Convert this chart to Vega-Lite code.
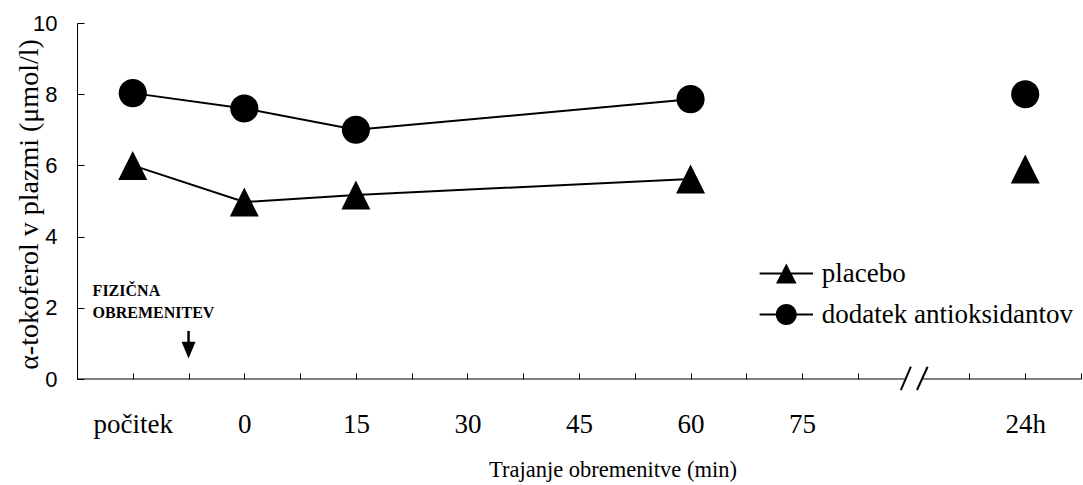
{
  "$schema": "https://vega.github.io/schema/vega-lite/v6.json",
  "width": 1004,
  "height": 356,
  "autosize": "none",
  "padding": {"left": 77, "top": 23, "right": 2, "bottom": 106},
  "background": "white",
  "config": {"view": {"stroke": null}, "font": "Liberation Serif"},
  "datasets": {
    "points": [
      {"pos": 1, "t": "počitek", "series": "placebo", "value": 6.0},
      {"pos": 3, "t": "0", "series": "placebo", "value": 4.97},
      {"pos": 5, "t": "15", "series": "placebo", "value": 5.17},
      {"pos": 11, "t": "60", "series": "placebo", "value": 5.62},
      {"pos": 17, "t": "24h", "series": "placebo", "value": 5.9},
      {"pos": 1, "t": "počitek", "series": "dodatek antioksidantov", "value": 8.03},
      {"pos": 3, "t": "0", "series": "dodatek antioksidantov", "value": 7.6},
      {"pos": 5, "t": "15", "series": "dodatek antioksidantov", "value": 7.0},
      {"pos": 11, "t": "60", "series": "dodatek antioksidantov", "value": 7.86},
      {"pos": 17, "t": "24h", "series": "dodatek antioksidantov", "value": 8.0}
    ],
    "axisline": [{"x": 0, "x2": 14.84}, {"x": 15.17, "x2": 18}],
    "slashes": [
      {"x": 14.77, "x2": 14.95, "y": -0.31, "y2": 0.345},
      {"x": 15.06, "x2": 15.25, "y": -0.31, "y2": 0.345}
    ],
    "notes": [
      {"x": 0.28, "y": 2.32, "text": "FIZIČNA"},
      {"x": 0.28, "y": 1.7, "text": "OBREMENITEV"}
    ],
    "arrow": [{"x": 2, "y": 1.35, "y2": 0.95}],
    "arrowhead": [{"x": 2, "y": 0.81}]
  },
  "layer": [
    {
      "data": {"name": "points"},
      "transform": [{"filter": "datum.t !== '24h'"}],
      "mark": {"type": "line", "color": "black", "strokeWidth": 2},
      "encoding": {
        "x": {
          "field": "pos", "type": "quantitative",
          "scale": {"domain": [0, 18], "nice": false, "zero": false},
          "axis": {
            "values": [1, 2, 3, 4, 5, 6, 7, 8, 9, 10, 11, 12, 13, 14, 16, 17, 18],
            "labelExpr": "datum.value == 1 ? 'počitek' : datum.value == 3 ? '0' : datum.value == 5 ? '15' : datum.value == 7 ? '30' : datum.value == 9 ? '45' : datum.value == 11 ? '60' : datum.value == 13 ? '75' : datum.value == 17 ? '24h' : ''",
            "domain": false,
            "grid": false,
            "tickSize": -6,
            "tickColor": "black",
            "labelPadding": 59,
            "labelBaseline": "alphabetic",
            "labelFont": "Liberation Serif",
            "labelFontSize": 27,
            "labelColor": "black",
            "labelAngle": 0,
            "labelFlush": false,
            "labelOverlap": false,
            "title": "Trajanje obremenitve (min)",
            "titleFont": "Liberation Serif",
            "titleFontSize": 22.5,
            "titleFontWeight": "normal",
            "titleColor": "black",
            "titleX": 535.5,
            "titleY": 97.7,
            "titleAlign": "center",
            "titleBaseline": "alphabetic"
          }
        },
        "y": {
          "field": "value", "type": "quantitative",
          "scale": {"domain": [0, 10], "nice": false, "zero": false},
          "axis": {
            "values": [0, 2, 4, 6, 8, 10],
            "grid": false,
            "domainColor": "black",
            "tickColor": "black",
            "tickSize": -7,
            "labelPadding": 27,
            "labelFont": "Liberation Sans",
            "labelFontSize": 22,
            "labelColor": "black",
            "title": "α-tokoferol v plazmi (μmol/l)",
            "titleFont": "Liberation Serif",
            "titleFontSize": 28,
            "titleFontWeight": "normal",
            "titleColor": "black",
            "titleAngle": -90,
            "titleX": -40,
            "titleY": 181,
            "titleAlign": "center",
            "titleBaseline": "alphabetic"
          }
        },
        "detail": {"field": "series"}
      }
    },
    {
      "data": {"name": "points"},
      "transform": [{"filter": "datum.series === 'placebo'"}],
      "mark": {"type": "point", "filled": true, "color": "black", "opacity": 1, "size": 841, "strokeWidth": 0, "shape": "M0,-1L1,1L-1,1Z"},
      "encoding": {
        "x": {"field": "pos", "type": "quantitative"},
        "y": {"field": "value", "type": "quantitative"}
      }
    },
    {
      "data": {"name": "points"},
      "transform": [{"filter": "datum.series !== 'placebo'"}],
      "mark": {"type": "point", "filled": true, "color": "black", "opacity": 1, "size": 841, "strokeWidth": 0, "shape": "M0.97,0A0.97,0.97,0,1,1,-0.97,0A0.97,0.97,0,1,1,0.97,0Z"},
      "encoding": {
        "x": {"field": "pos", "type": "quantitative"},
        "y": {"field": "value", "type": "quantitative"}
      }
    },
    {
      "data": {"name": "points"},
      "transform": [{"filter": "false"}],
      "mark": {"type": "point", "filled": true, "color": "black", "opacity": 1, "size": 441},
      "encoding": {
        "x": {"field": "pos", "type": "quantitative"},
        "y": {"field": "value", "type": "quantitative"},
        "shape": {
          "field": "series", "type": "nominal",
          "scale": {
            "domain": ["placebo", "dodatek antioksidantov"],
            "range": [
              "M-2.54,-0.1L2.54,-0.1L2.54,0.1L-2.54,0.1ZM0,-0.95L0.98,0.95L-0.98,0.95Z",
              "M-2.54,-0.1L2.54,-0.1L2.54,0.1L-2.54,0.1ZM1,0A1,1,0,1,1,-1,0A1,1,0,1,1,1,0Z"
            ]
          },
          "legend": {
            "orient": "none",
            "legendX": 695.8,
            "legendY": 237,
            "title": null,
            "padding": 0,
            "labelFont": "Liberation Serif",
            "labelFontSize": 27,
            "labelColor": "black",
            "labelLimit": 0,
            "labelOffset": 22,
            "labelBaseline": "middle",
            "symbolSize": 441,
            "rowPadding": 13,
            "symbolFillColor": "black",
            "symbolOpacity": 1
          }
        }
      }
    },
    {
      "data": {"name": "axisline"},
      "mark": {"type": "rule", "color": "black", "strokeWidth": 1},
      "encoding": {
        "x": {"field": "x", "type": "quantitative"},
        "x2": {"field": "x2"},
        "y": {"datum": 0}
      }
    },
    {
      "data": {"name": "slashes"},
      "mark": {"type": "rule", "color": "black", "strokeWidth": 2},
      "encoding": {
        "x": {"field": "x", "type": "quantitative"},
        "x2": {"field": "x2"},
        "y": {"field": "y", "type": "quantitative"},
        "y2": {"field": "y2"}
      }
    },
    {
      "data": {"name": "arrow"},
      "mark": {"type": "rule", "color": "black", "strokeWidth": 2.5},
      "encoding": {
        "x": {"field": "x", "type": "quantitative"},
        "y": {"field": "y", "type": "quantitative"},
        "y2": {"field": "y2"}
      }
    },
    {
      "data": {"name": "arrowhead"},
      "mark": {"type": "point", "filled": true, "color": "black", "opacity": 1, "size": 196, "strokeWidth": 0, "shape": "M-1,-1.2L1,-1.2L0,1.2Z"},
      "encoding": {
        "x": {"field": "x", "type": "quantitative"},
        "y": {"field": "y", "type": "quantitative"}
      }
    },
    {
      "data": {"name": "notes"},
      "mark": {"type": "text", "font": "Liberation Serif", "fontWeight": "bold", "fontSize": 16, "align": "left", "baseline": "alphabetic", "color": "black"},
      "encoding": {
        "x": {"field": "x", "type": "quantitative"},
        "y": {"field": "y", "type": "quantitative"},
        "text": {"field": "text"}
      }
    }
  ]
}
